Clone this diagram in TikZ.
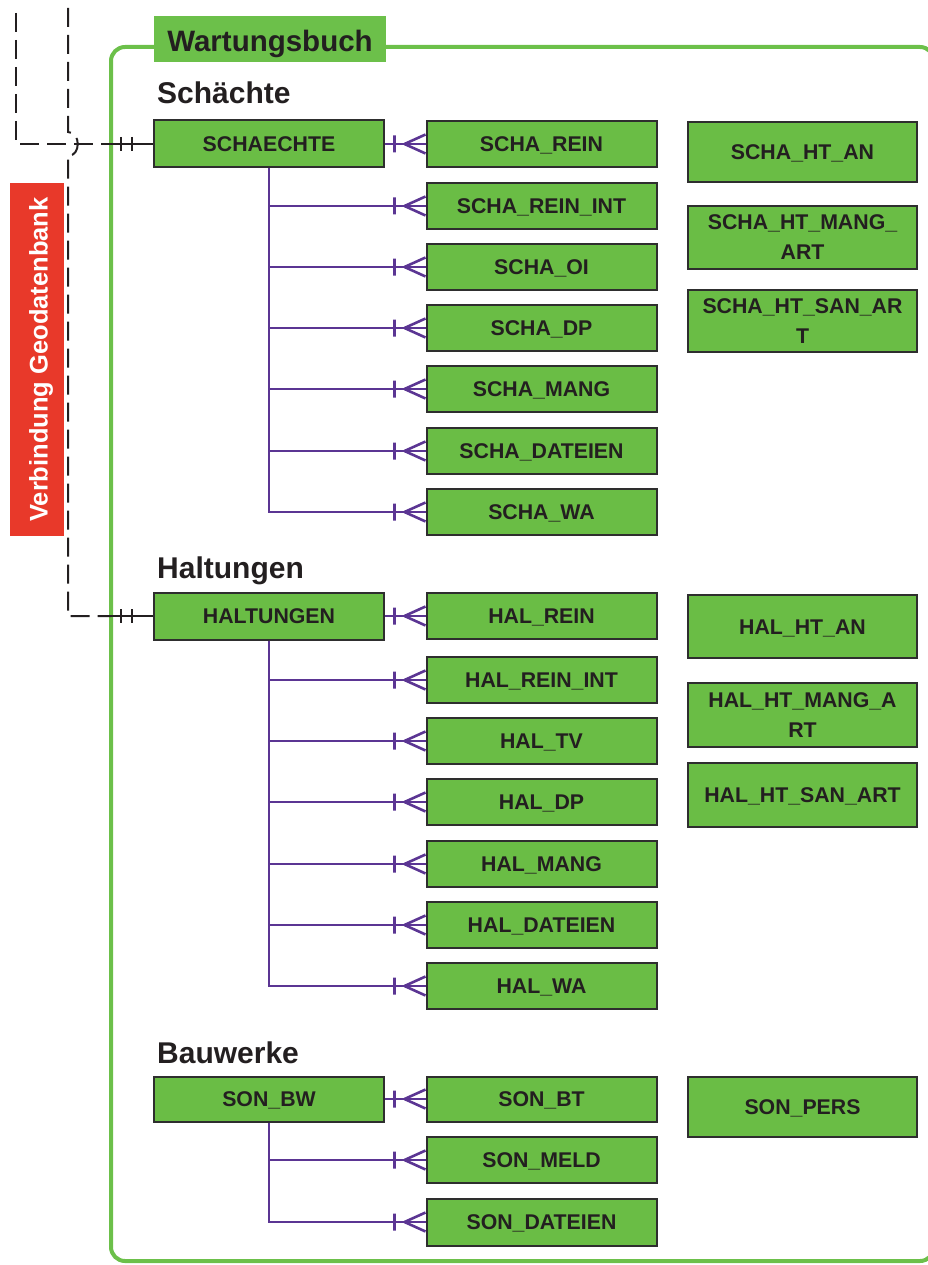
\documentclass[tikz,border=0pt]{standalone}
\usepackage{fontspec}
\setmainfont{Liberation Sans}
\definecolor{boxgreen}{HTML}{6ABD45}
\definecolor{framegreen}{HTML}{6CC04A}
\definecolor{boxline}{HTML}{2E2E2E}
\definecolor{ink}{HTML}{231F20}
\definecolor{relpurple}{HTML}{5B3593}
\definecolor{dbred}{HTML}{E8392A}

% crow's foot (one-to-many, mandatory) at the west side of a table node
\newcommand\crowend[1]{%
  \draw[rel] ([xshift=-21pt]#1.west) -- ([yshift=9.5pt]#1.west)
             ([xshift=-21pt]#1.west) -- ([yshift=-9.5pt]#1.west)
             ([xshift=-31pt,yshift=8.5pt]#1.west) -- ([xshift=-31pt,yshift=-8.5pt]#1.west);}
% double bar (exactly one) in front of a parent table
\newcommand\oneone[1]{%
  \draw[onelink] ([xshift=-32pt,yshift=7pt]#1.west) -- ([xshift=-32pt,yshift=-7pt]#1.west)
                 ([xshift=-21pt,yshift=7pt]#1.west) -- ([xshift=-21pt,yshift=-7pt]#1.west);}

\begin{document}
\begin{tikzpicture}[x=1pt,y=-1pt,
  tbl/.style={draw=boxline, line width=2pt, fill=boxgreen, text=ink,
    font=\fontsize{21.3}{30}\selectfont\bfseries, inner sep=0pt},
  onerow/.style={tbl, text height=15.2pt, text depth=0pt},
  parent/.style={onerow, minimum width=230pt, minimum height=47pt},
  child/.style={onerow, minimum width=230pt, minimum height=46pt},
  lookup/.style={onerow, minimum width=229pt},
  lookuptwo/.style={tbl, minimum width=229pt, align=center},
  heading/.style={anchor=base west, inner sep=0pt, text=ink,
    font=\fontsize{30}{34}\selectfont\bfseries},
  rel/.style={draw=relpurple, line width=2.6pt},
  onelink/.style={draw=ink, line width=2pt},
  dbline/.style={draw=ink, line width=2pt, dash pattern=on 19pt off 8pt},
]
\useasboundingbox (0,0) rectangle (928,1265);
\clip (0,0) rectangle (928,1265);

% outer frame of the maintenance book
\draw[framegreen, line width=4pt, rounded corners=14pt]
  (111,1261) -- (111,47) -- (934,47) -- (934,1261) -- cycle;
\node[fill=framegreen, minimum width=232pt, minimum height=46pt, inner sep=0pt,
  text=ink, text height=26pt, text depth=0pt,
  font=\fontsize{29.5}{34}\selectfont\bfseries] (wtitle) at (270,39) {Wartungsbuch};

% link to the geodatabase
\node[fill=dbred, text=white, rotate=90, minimum width=353pt, minimum height=54pt,
  inner sep=0pt, text height=21pt, text depth=0pt,
  font=\fontsize{25.5}{30}\selectfont\bfseries] (geodb) at (37,359.5) {Verbindung Geodatenbank};

% ---------------- Schächte ----------------
\node[heading] (hschacht) at (157,104) {Schächte};
\node[parent] (schaechte) at (269,144) {SCHAECHTE};
\node[child] (schaRein)    at (541.5,144) {SCHA\_REIN};
\node[child] (schaReinInt) at (541.5,206) {SCHA\_REIN\_INT};
\node[child] (schaOi)      at (541.5,267) {SCHA\_OI};
\node[child] (schaDp)      at (541.5,328) {SCHA\_DP};
\node[child] (schaMang)    at (541.5,389) {SCHA\_MANG};
\node[child] (schaDat)     at (541.5,451) {SCHA\_DATEIEN};
\node[child] (schaWa)      at (541.5,512) {SCHA\_WA};
\node[lookup, minimum height=60pt]    (schaHtAn)   at (802.5,152)   {SCHA\_HT\_AN};
\node[lookuptwo, minimum height=63pt] (schaHtMang) at (802.5,237.5) {SCHA\_HT\_MANG\_\\ART};
\node[lookuptwo, minimum height=62pt] (schaHtSan)  at (802.5,321)   {SCHA\_HT\_SAN\_AR\\T};

\draw[rel] (schaechte.east) -- (schaRein.west);
\foreach \c in {schaReinInt,schaOi,schaDp,schaMang,schaDat,schaWa}
  {\draw[rel] (schaechte.south) |- (\c.west);}
\foreach \c in {schaRein,schaReinInt,schaOi,schaDp,schaMang,schaDat,schaWa}
  {\crowend{\c}}

% ---------------- Haltungen ----------------
\node[heading] (hhalt) at (157,578) {Haltungen};
\node[parent] (haltungen) at (269,616) {HALTUNGEN};
\node[child] (halRein)    at (541.5,616) {HAL\_REIN};
\node[child] (halReinInt) at (541.5,680) {HAL\_REIN\_INT};
\node[child] (halTv)      at (541.5,741) {HAL\_TV};
\node[child] (halDp)      at (541.5,802) {HAL\_DP};
\node[child] (halMang)    at (541.5,864) {HAL\_MANG};
\node[child] (halDat)     at (541.5,925) {HAL\_DATEIEN};
\node[child] (halWa)      at (541.5,986) {HAL\_WA};
\node[lookup, minimum height=63pt]    (halHtAn)   at (802.5,626.5) {HAL\_HT\_AN};
\node[lookuptwo, minimum height=64pt] (halHtMang) at (802.5,715)   {HAL\_HT\_MANG\_A\\RT};
\node[lookup, minimum height=64pt]    (halHtSan)  at (802.5,795)   {HAL\_HT\_SAN\_ART};

\draw[rel] (haltungen.east) -- (halRein.west);
\foreach \c in {halReinInt,halTv,halDp,halMang,halDat,halWa}
  {\draw[rel] (haltungen.south) |- (\c.west);}
\foreach \c in {halRein,halReinInt,halTv,halDp,halMang,halDat,halWa}
  {\crowend{\c}}

% ---------------- Bauwerke ----------------
\node[heading] (hbau) at (157,1063) {Bauwerke};
\node[parent, minimum height=45pt] (sonBw) at (269,1099) {SON\_BW};
\node[child, minimum height=45pt] (sonBt)  at (541.5,1099) {SON\_BT};
\node[child] (sonMeld) at (541.5,1160) {SON\_MELD};
\node[child, minimum height=47pt] (sonDat)  at (541.5,1222) {SON\_DATEIEN};
\node[lookup, minimum height=60pt] (sonPers) at (802.5,1107) {SON\_PERS};

\draw[rel] (sonBw.east) -- (sonBt.west);
\foreach \c in {sonMeld,sonDat}
  {\draw[rel] (sonBw.south) |- (\c.west);}
\foreach \c in {sonBt,sonMeld,sonDat}
  {\crowend{\c}}

% ---------------- links from the geodatabase ----------------
\coordinate (dbA) at (16,13);
\coordinate (dbB) at (68,8);
\coordinate (hopT) at (68,132);
\coordinate (hopB) at (68,156);
\coordinate (inA) at (111,144);
\coordinate (inB) at (111,616);

\draw[dbline] (dbA) |- (inA);
\draw[dbline] (dbB) -- (hopT) .. controls (81,132) and (81,156) .. (hopB) |- (inB);
\draw[onelink] (inA) -- (schaechte.west);
\draw[onelink] (inB) -- (haltungen.west);
\oneone{schaechte}
\oneone{haltungen}
\end{tikzpicture}
\end{document}
